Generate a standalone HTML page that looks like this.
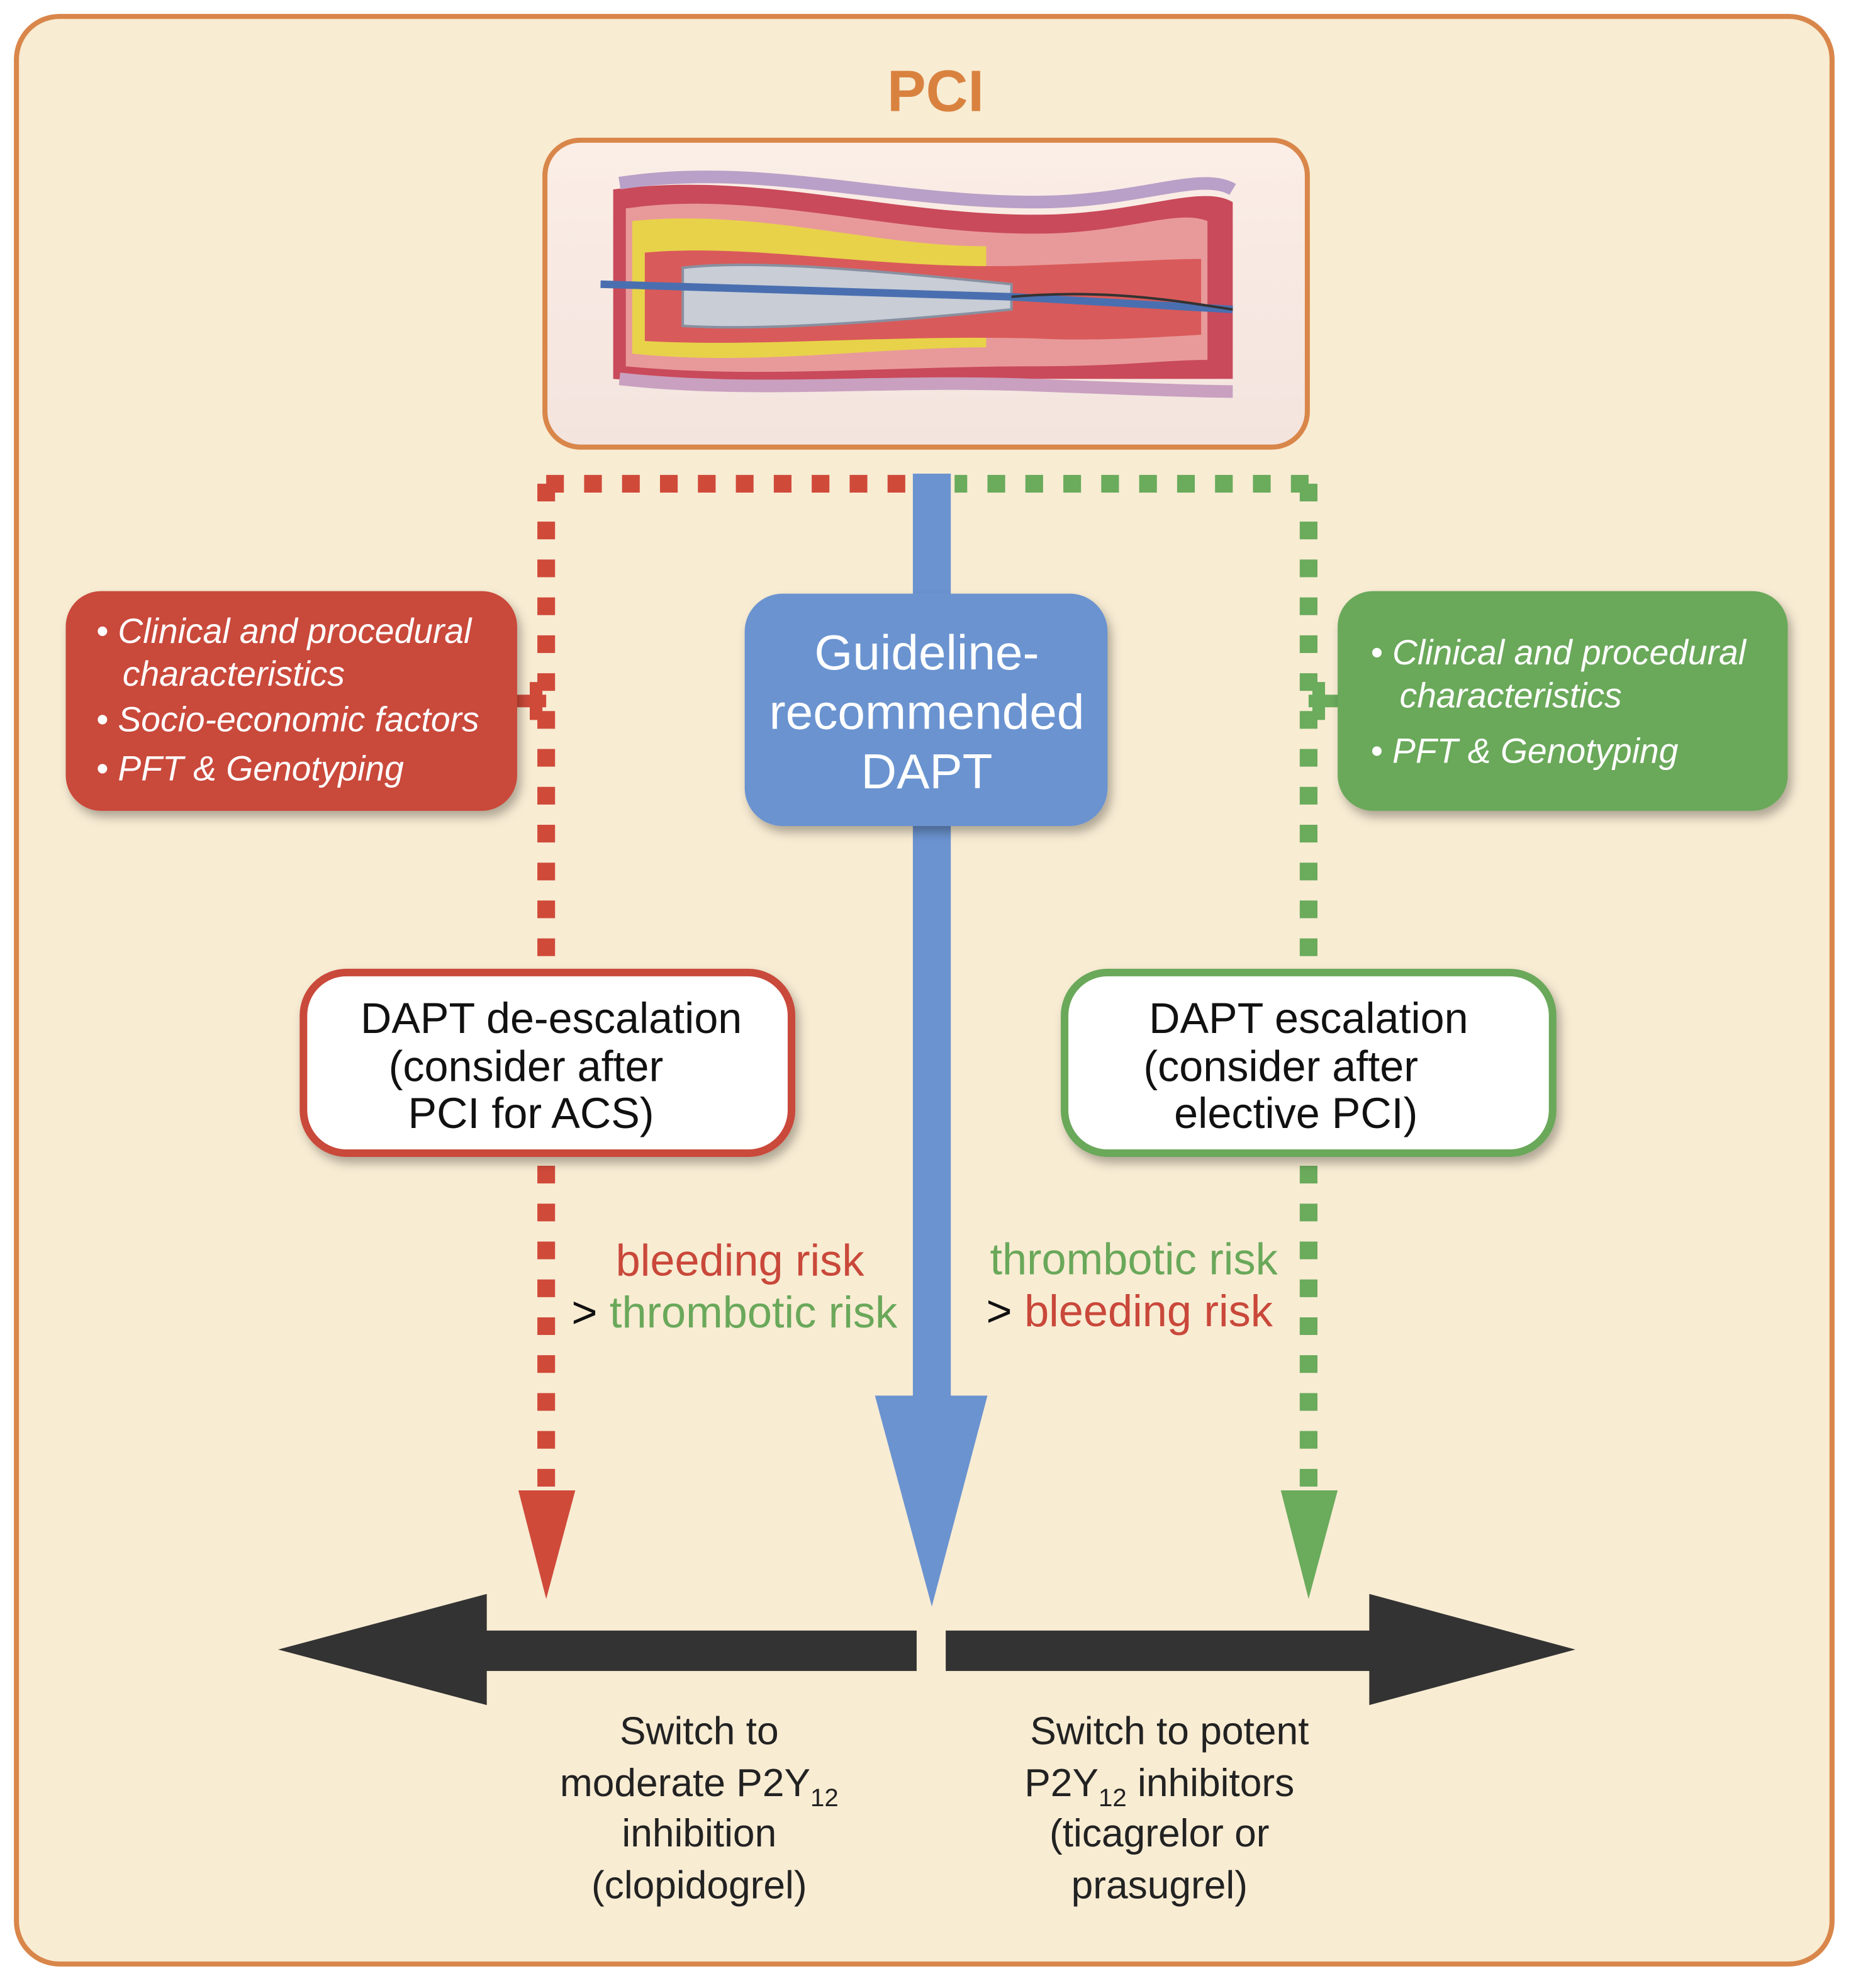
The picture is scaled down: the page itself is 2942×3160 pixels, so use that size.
<!DOCTYPE html>
<html><head><meta charset="utf-8"><style>
html,body{margin:0;padding:0;background:#fff;}
svg{display:block;}
text{font-family:"Liberation Sans",sans-serif;}
</style></head><body>
<svg width="2942" height="3160" viewBox="0 0 1464 1574" preserveAspectRatio="none" xmlns="http://www.w3.org/2000/svg">
<defs>
<filter id="sh" x="-10%" y="-10%" width="125%" height="130%"><feDropShadow dx="3" dy="5" stdDeviation="4" flood-color="#000" flood-opacity="0.3"/></filter>
<linearGradient id="bg" x1="0" y1="0" x2="0" y2="1"><stop offset="0" stop-color="#fbeee6"/><stop offset="1" stop-color="#f3e4de"/></linearGradient>
</defs>
<rect x="0" y="0" width="1464" height="1574" fill="#fff"/>
<rect x="13" y="13" width="1436" height="1542" rx="34" fill="#f8ecd3" stroke="#d9864a" stroke-width="4"/>
<text x="740" y="88" font-size="46" font-weight="bold" fill="#d9823f" text-anchor="middle">PCI</text>

<!-- image box -->
<rect x="431" y="111" width="603" height="243" rx="28" fill="url(#bg)" stroke="#d9864a" stroke-width="4"/>
<g>
<path d="M485,150 C600,135 700,170 820,170 C900,170 950,145 975,160 L975,300 C940,300 900,300 820,300 C700,300 600,310 485,300 Z" fill="#c94a5a"/>
<path d="M495,165 C600,150 700,185 820,185 C890,185 930,165 955,175 L955,285 C920,285 890,290 820,290 C700,290 600,300 495,290 Z" fill="#e89a9a"/>
<path d="M500,175 C600,165 690,195 780,195 L780,275 C690,275 600,290 500,280 Z" fill="#e8d24a"/>
<path d="M510,200 C600,192 700,215 820,210 C880,208 920,205 950,205 L950,265 C900,268 860,270 820,268 C700,265 600,275 510,270 Z" fill="#d95a5a"/>
<path d="M540,212 C600,205 700,215 800,225 L800,245 C700,255 600,262 540,258 Z" fill="#c8cdd6" stroke="#8890a0" stroke-width="2"/>
<path d="M475,225 L800,235 L975,245" fill="none" stroke="#4a6fb0" stroke-width="6"/>
<path d="M800,235 C880,228 940,240 975,245" fill="none" stroke="#333" stroke-width="2"/>
<path d="M490,145 C600,128 700,160 820,160 C900,160 950,135 975,150" fill="none" stroke="#b9a0c8" stroke-width="10"/>
<path d="M490,300 C600,312 700,300 820,305 C900,308 950,310 975,310" fill="none" stroke="#c9a0c0" stroke-width="10"/>
</g>

<!-- red dotted -->
<path d="M432,383 H720" stroke="#d04a3a" stroke-width="14" stroke-dasharray="14,16" fill="none"/>
<path d="M432,383 V1185" stroke="#d04a3a" stroke-width="14" stroke-dasharray="14,16" fill="none"/>
<!-- green dotted -->
<path d="M1035,383 H755" stroke="#6aab5c" stroke-width="14" stroke-dasharray="14,16" fill="none"/>
<path d="M1035,383 V1185" stroke="#6aab5c" stroke-width="14" stroke-dasharray="14,16" fill="none"/>
<polygon points="410,1180 455,1180 432,1266" fill="#d04a3a"/>
<polygon points="1013,1180 1058,1180 1035,1266" fill="#6aab5c"/>

<!-- side connectors -->
<path d="M408,555 H432 M424,540 V570" stroke="#d04a3a" stroke-width="10" fill="none"/>
<path d="M1060,555 H1035 M1043,540 V570" stroke="#6aab5c" stroke-width="10" fill="none"/>

<!-- blue arrow -->
<rect x="722" y="375" width="30" height="735" fill="#6b93d0"/>
<polygon points="692,1105 781,1105 737,1272" fill="#6b93d0"/>

<!-- blue box -->
<rect x="589" y="470" width="287" height="184" rx="30" fill="#6b93d0" filter="url(#sh)"/>
<g fill="#fff" font-size="39" text-anchor="middle">
<text x="733" y="530">Guideline-</text>
<text x="733" y="577">recommended</text>
<text x="733" y="624">DAPT</text>
</g>

<!-- red box -->
<rect x="52" y="468" width="357" height="174" rx="28" fill="#c9483a" filter="url(#sh)"/>
<g fill="#fff" font-size="27.5" font-style="italic">
<text x="76" y="509">• Clinical and procedural</text>
<text x="97" y="543">characteristics</text>
<text x="76" y="579">• Socio-economic factors</text>
<text x="76" y="618">• PFT &amp; Genotyping</text>
</g>
<!-- green box -->
<rect x="1058" y="468" width="356" height="174" rx="28" fill="#6aa85a" filter="url(#sh)"/>
<g fill="#fff" font-size="27.5" font-style="italic">
<text x="1084" y="526">• Clinical and procedural</text>
<text x="1107" y="560">characteristics</text>
<text x="1084" y="604">• PFT &amp; Genotyping</text>
</g>

<!-- outlined boxes -->
<rect x="240" y="770" width="386" height="143" rx="34" fill="#fff" stroke="#c9483a" stroke-width="6" filter="url(#sh)"/>
<g fill="#111" font-size="34" text-anchor="middle">
<text x="436" y="818">DAPT de-escalation</text>
<text x="416" y="856">(consider after</text>
<text x="420" y="893">PCI for ACS)</text>
</g>
<rect x="842" y="770" width="386" height="143" rx="34" fill="#fff" stroke="#6aa85a" stroke-width="6" filter="url(#sh)"/>
<g fill="#111" font-size="34" text-anchor="middle">
<text x="1035" y="818">DAPT escalation</text>
<text x="1013" y="856">(consider after</text>
<text x="1025" y="893">elective PCI)</text>
</g>

<!-- risk text -->
<g font-size="35">
<text x="487" y="1010" fill="#c9483a">bleeding risk</text>
<text x="452" y="1051" fill="#111">&gt; <tspan fill="#6aa85a">thrombotic risk</tspan></text>
<text x="783" y="1009" fill="#6aa85a">thrombotic risk</text>
<text x="780" y="1050" fill="#111">&gt; <tspan fill="#c9483a">bleeding risk</tspan></text>
</g>

<!-- black double arrow -->
<rect x="380" y="1291" width="345" height="32" fill="#333"/>
<polygon points="220,1306 385,1262 385,1350" fill="#333"/>
<rect x="748" y="1291" width="340" height="32" fill="#333"/>
<polygon points="1246,1306 1083,1262 1083,1350" fill="#333"/>

<!-- bottom text -->
<g fill="#222" font-size="31" text-anchor="middle">
<text x="553" y="1381">Switch to</text>
<text x="553" y="1422">moderate P2Y<tspan font-size="20" dy="8">12</tspan></text>
<text x="553" y="1462">inhibition</text>
<text x="553" y="1503">(clopidogrel)</text>
<text x="925" y="1381">Switch to potent</text>
<text x="917" y="1422">P2Y<tspan font-size="20" dy="8">12</tspan><tspan dy="-8"> inhibitors</tspan></text>
<text x="917" y="1462">(ticagrelor or</text>
<text x="917" y="1503">prasugrel)</text>
</g>
</svg>
</body></html>
